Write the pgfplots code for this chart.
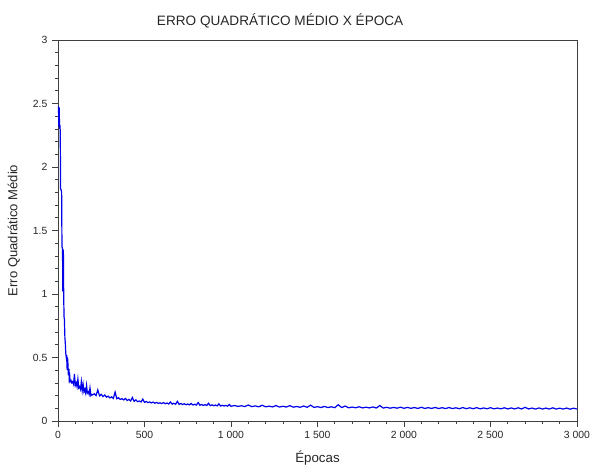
\documentclass[border=0pt]{standalone}
\usepackage{fontspec}
\setmainfont{Liberation Sans}
\usepackage{pgfplots}
\pgfplotsset{compat=1.18}
\begin{document}
\begin{tikzpicture}
\path[use as bounding box] (-43.5pt,-36pt) rectangle (399.75pt,315.75pt);
\begin{axis}[
  scale only axis,
  width=389.25pt, height=285.75pt,
  xmin=0, xmax=3000, ymin=0, ymax=3,
  xtick={0,500,1000,1500,2000,2500,3000},
  xticklabels={0,500,1 000,1 500,2 000,2 500,3 000},
  ytick={0,0.5,1,1.5,2,2.5,3},
  yticklabels={0,0.5,1,1.5,2,2.5,3},
  minor x tick num=4, minor y tick num=4,
  tick align=outside,
  xtick pos=left, ytick pos=left,
  major tick length=4.5pt, minor tick length=2.25pt,
  axis line style={black!75, line width=0.6pt},
  every tick/.style={black!75, line width=0.5pt},
  tick label style={font=\fontsize{7.8}{9}\selectfont, text=black!85},
  /pgf/number format/assume math mode=true,
  title={ERRO QUADRÁTICO MÉDIO X ÉPOCA},
  every axis title/.style={at={(axis description cs:0.428,1)}, anchor=base, yshift=11.25pt, font=\fontsize{10.2}{12}\selectfont, text=black!85},
  xlabel={Épocas},
  ylabel={Erro Quadrático Médio},
  every axis x label/.style={at={(axis description cs:0.5,-0.097)}, anchor=center, font=\fontsize{10}{12}\selectfont, text=black!85},
  every axis y label/.style={at={(axis description cs:-0.085,0.5)}, rotate=90, anchor=center, font=\fontsize{9.8}{12}\selectfont, text=black!85},
]
\addplot[color={rgb,255:red,0;green,0;blue,235}, line width=0.9pt, line join=miter, mark=none] coordinates {
(0,2.48)(3,2.45)(5,2.32)(7,2.47)(9,2.30)(11,2.33)(13,2.28)(15,1.83)(18,1.82)(21,1.80)
(23,1.37)(26,1.36)(28,1.02)(31,1.35)(33,0.98)(35,0.82)(37,0.80)(40,0.65)(42,0.62)(45,0.53)
(48,0.50)(50,0.52)(53,0.40)(55,0.50)(58,0.44)(60,0.36)(63,0.41)(65,0.33)(68,0.35)(70,0.31)
(75,0.32)(80,0.30)(85,0.31)(90,0.29)(95,0.37)(100,0.28)(105,0.30)(110,0.27)(115,0.33)(120,0.26)
(125,0.27)(130,0.25)(135,0.31)(140,0.24)(145,0.29)(150,0.23)(155,0.25)(160,0.22)(165,0.28)(170,0.22)
(175,0.23)(180,0.21)(185,0.26)(190,0.20)(195,0.21)
(200,0.205)(210,0.215)(220,0.200)(230,0.245)(240,0.198)(250,0.210)(260,0.192)(270,0.205)(280,0.188)(290,0.196)
(300,0.182)(310,0.190)(320,0.178)(330,0.228)(340,0.175)(350,0.183)(360,0.170)(370,0.176)(380,0.166)(390,0.178)
(400,0.162)(410,0.170)(420,0.158)(430,0.185)(440,0.155)(450,0.166)(460,0.152)(470,0.158)(480,0.150)(490,0.172)
(500,0.147)(510,0.154)(520,0.145)(530,0.150)(540,0.142)(550,0.149)(560,0.140)(570,0.146)(580,0.139)(590,0.143)
(600,0.137)(610,0.145)(620,0.136)(630,0.142)(640,0.134)(650,0.150)(660,0.133)(670,0.140)(680,0.132)(690,0.155)
(700,0.131)(710,0.138)(720,0.130)(730,0.136)(740,0.128)(750,0.134)(760,0.127)(770,0.138)(780,0.126)(790,0.132)
(800,0.125)(810,0.145)(820,0.124)(830,0.130)(840,0.123)(850,0.129)(860,0.122)(870,0.140)(880,0.121)(890,0.127)
(900,0.120)(910,0.126)(920,0.119)(930,0.135)(940,0.118)(950,0.124)(960,0.118)(970,0.123)(980,0.117)(990,0.130)
(1000,0.116)(1020,0.122)(1040,0.115)(1060,0.120)(1080,0.114)(1100,0.126)(1120,0.113)(1140,0.119)(1160,0.112)(1180,0.124)
(1200,0.112)(1220,0.117)(1240,0.111)(1260,0.122)(1280,0.110)(1300,0.116)(1320,0.110)(1340,0.121)(1360,0.109)(1380,0.114)
(1400,0.108)(1420,0.118)(1440,0.108)(1460,0.125)(1480,0.107)(1500,0.113)(1520,0.106)(1540,0.115)(1560,0.106)(1580,0.112)
(1600,0.105)(1620,0.128)(1640,0.106)(1660,0.118)(1680,0.104)(1700,0.110)(1720,0.104)(1740,0.112)(1760,0.103)(1780,0.109)
(1800,0.103)(1820,0.111)(1840,0.102)(1860,0.122)(1880,0.102)(1900,0.108)(1920,0.101)(1940,0.107)(1960,0.101)(1980,0.109)
(2000,0.100)(2020,0.107)(2040,0.100)(2060,0.106)(2080,0.099)(2100,0.108)(2120,0.099)(2140,0.105)(2160,0.099)(2180,0.107)
(2200,0.098)(2220,0.105)(2240,0.098)(2260,0.106)(2280,0.098)(2300,0.104)(2320,0.097)(2340,0.106)(2360,0.097)(2380,0.104)
(2400,0.097)(2420,0.105)(2440,0.096)(2460,0.103)(2480,0.096)(2500,0.105)(2520,0.096)(2540,0.102)(2560,0.096)(2580,0.104)
(2600,0.095)(2620,0.103)(2640,0.095)(2660,0.104)(2680,0.095)(2700,0.108)(2720,0.095)(2740,0.102)(2760,0.094)(2780,0.103)
(2800,0.094)(2820,0.102)(2840,0.094)(2860,0.104)(2880,0.094)(2900,0.101)(2920,0.094)(2940,0.102)(2960,0.093)(2980,0.101)
(3000,0.094)
};
\end{axis}
\end{tikzpicture}
\end{document}
